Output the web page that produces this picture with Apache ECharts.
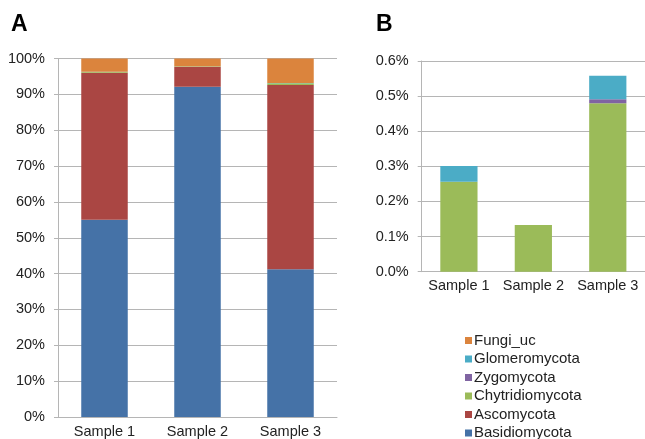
<!DOCTYPE html>
<html><head><meta charset="utf-8">
<script src="https://cdn.jsdelivr.net/npm/echarts@6/dist/echarts.min.js"></script>
<style>html,body{margin:0;padding:0;background:#fff}#c{width:645px;height:439px}</style>
</head><body><div id="c"></div>
<script>
const categories = ['Sample 1','Sample 2','Sample 3'];
const tickLabelsA = ['0%','10%','20%','30%','40%','50%','60%','70%','80%','90%','100%'];
// Panel A (percent of all fungal reads)
const basidioA = [55.0, 92.1, 41.2];
const ascoA    = [41.0, 5.6, 51.4];
const chytridA = [0.256, 0.133, 0.48];
const zygoA    = [0, 0, 0.011];
const glomeroA = [0.045, 0, 0.067];
const fungiUcA = [3.699, 2.167, 6.842];
// Panel B (minor phyla, percent)
const chytridB = [0.256, 0.133, 0.48];
const zygoB    = [0, 0, 0.011];
const glomeroB = [0.045, 0, 0.067];
const legendOrder = ['Fungi_uc','Glomeromycota','Zygomycota','Chytridiomycota','Ascomycota','Basidiomycota'];

const colors = {Basidiomycota:'#4572A7', Ascomycota:'#AA4643', Chytridiomycota:'#9BBB59', Zygomycota:'#8064A2', Glomeromycota:'#4BACC6', Fungi_uc:'#DB843D'};
const font = 'Liberation Sans, Arial, sans-serif';
const txt = '#222';
const gridCol = '#b5b5b5';

function bar(name, data, idx, stack){
  return {name, type:'bar', stack, xAxisIndex:idx, yAxisIndex:idx, data, barWidth:'50%',
    itemStyle:{color:colors[name]}, emphasis:{disabled:true}};
}
function xAx(idx){
  return {type:'category', gridIndex:idx, data:categories,
    axisLine:{lineStyle:{color:gridCol}}, axisTick:{length:5, lineStyle:{color:gridCol}},
    axisLabel:{color:txt, fontSize:14.5, fontFamily:font, margin:7, interval:0}};
}
const chart = echarts.init(document.getElementById('c'), null, {renderer:'canvas'});
chart.setOption({
  animation:false,
  graphic:[
    {type:'text', style:{text:'A', x:11, y:25, font:'bold 23px '+font, fill:'#000', textVerticalAlign:'middle'}},
    {type:'text', style:{text:'B', x:376, y:25, font:'bold 23px '+font, fill:'#000', textVerticalAlign:'middle'}}
  ],
  legend:{orient:'vertical', left:465, top:333, height:140, width:170, padding:0,
    itemWidth:7, itemHeight:7, itemGap:3.5,
    data:legendOrder, icon:'rect', selectedMode:false,
    textStyle:{color:txt, fontSize:15, lineHeight:15, fontFamily:font, padding:[0,0,0,-3]}},
  grid:[
    {left:58, top:58.5, width:279, height:358.5},
    {left:421.7, top:61, width:223.3, height:210.7}
  ],
  xAxis:[xAx(0), xAx(1)],
  yAxis:[
    {type:'value', gridIndex:0, min:0, max:100, interval:10,
      axisLine:{show:true, lineStyle:{color:gridCol}}, axisTick:{show:true, length:4, lineStyle:{color:gridCol}},
      splitLine:{lineStyle:{color:gridCol}},
      axisLabel:{color:txt, fontSize:14.5, fontFamily:font, margin:13, formatter:v=>tickLabelsA[Math.round(v/10)]}},
    {type:'value', gridIndex:1, min:0, max:0.6, interval:0.1,
      axisLine:{show:true, lineStyle:{color:gridCol}}, axisTick:{show:true, length:4, lineStyle:{color:gridCol}},
      splitLine:{lineStyle:{color:gridCol}},
      axisLabel:{color:txt, fontSize:14.5, fontFamily:font, margin:13, formatter:v=>v.toFixed(1)+'%'}}
  ],
  series:[
    bar('Basidiomycota', basidioA, 0, 'a'),
    bar('Ascomycota', ascoA, 0, 'a'),
    bar('Chytridiomycota', chytridA, 0, 'a'),
    bar('Zygomycota', zygoA, 0, 'a'),
    bar('Glomeromycota', glomeroA, 0, 'a'),
    bar('Fungi_uc', fungiUcA, 0, 'a'),
    bar('Chytridiomycota', chytridB, 1, 'b'),
    bar('Zygomycota', zygoB, 1, 'b'),
    bar('Glomeromycota', glomeroB, 1, 'b')
  ]
});
</script></body></html>
